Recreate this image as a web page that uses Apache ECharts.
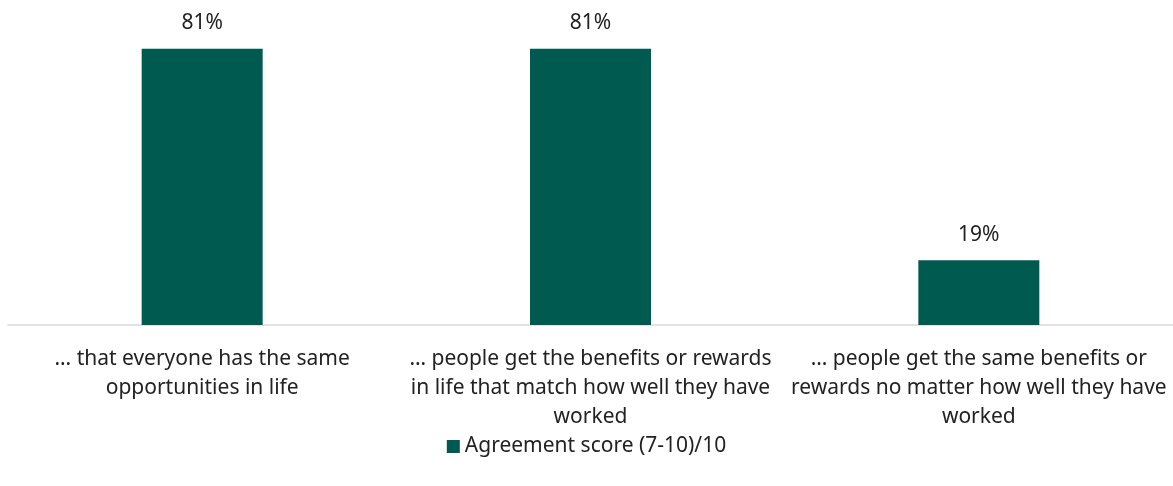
<!DOCTYPE html>
<html>
<head>
<meta charset="utf-8">
<script src="https://cdn.jsdelivr.net/npm/echarts@6/dist/echarts.min.js"></script>
<style>html,body{margin:0;padding:0;background:#fff}#c{width:1173px;height:486px}</style>
</head>
<body>
<div id="c"></div>
<script>
var categories = [
  "… that everyone has the same\nopportunities in life",
  "… people get the benefits or rewards\nin life that match how well they have\nworked",
  "… people get the same benefits or\nrewards no matter how well they have\nworked"
];
var seriesName = "Agreement score (7-10)/10";
var values = [81, 81, 19];

var FONT = "'Noto Sans', sans-serif";
var chart = echarts.init(document.getElementById('c'));
chart.setOption({
  animation: false,
  textStyle: { fontFamily: FONT },
  grid: { left: 8, right: 0, top: 18, bottom: 161 },
  legend: {
    data: [seriesName],
    top: 431,
    left: 'center',
    icon: 'rect',
    itemWidth: 13,
    itemHeight: 13,
    itemGap: 5,
    textStyle: { fontSize: 21, color: '#222', fontFamily: FONT }
  },
  xAxis: {
    type: 'category',
    data: categories,
    axisLine: { lineStyle: { color: '#D9D9D9', width: 1.5 } },
    axisTick: { show: false },
    axisLabel: { fontSize: 21, color: '#222', lineHeight: 29, margin: 20, interval: 0, fontFamily: FONT }
  },
  yAxis: {
    type: 'value',
    min: 0,
    max: 90,
    show: false,
    splitLine: { show: false }
  },
  series: [{
    name: seriesName,
    type: 'bar',
    data: values,
    barWidth: 121,
    itemStyle: { color: '#005A50' },
    label: {
      show: true,
      position: 'top',
      distance: 15,
      formatter: '{c}%',
      fontSize: 21,
      color: '#222',
      fontFamily: FONT
    }
  }]
});
</script>
</body>
</html>
